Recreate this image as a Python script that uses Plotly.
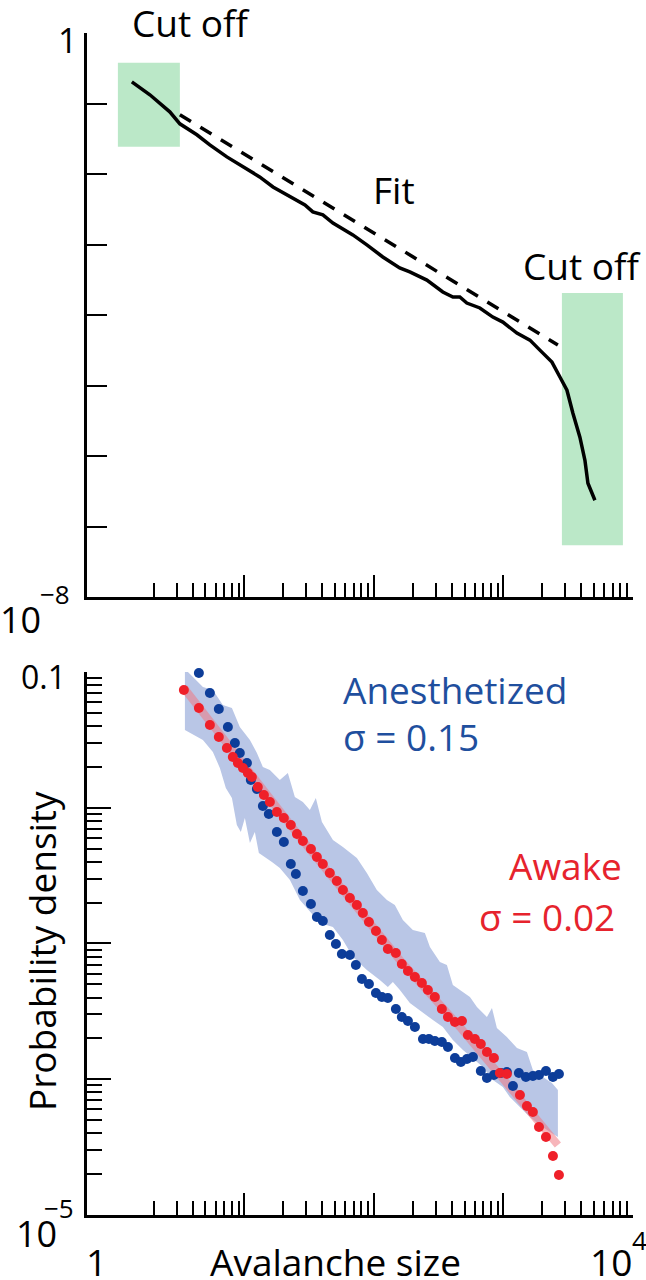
import plotly.graph_objects as go

# ---------------- data (top panel: schematic distribution) ----------------
top_size = [1.35, 1.86, 2.65, 3.17, 4.29, 5.40, 7.31, 9.72, 13.1, 16.6, 23.6, 29.3, 33.7,
            40.3, 48.2, 68.7, 88.1, 117, 158, 189, 256, 340, 407, 460, 521, 657, 828, 989,
            1269, 1600, 1910, 2366, 2727, 3090, 3436, 3890, 4254, 4487, 5080]
top_density = [0.203, 0.133, 0.0762, 0.0515, 0.0360, 0.0259, 0.0175, 0.0126, 0.00910,
               0.00656, 0.00458, 0.00365, 0.00290, 0.00263, 0.00202, 0.00137, 0.000986,
               0.000666, 0.000465, 0.000408, 0.000313, 0.000212, 0.000180, 0.000180,
               0.000148, 0.000126, 9.35e-5, 7.94e-5, 5.54e-5, 4.41e-5, 3.18e-5, 2.15e-5,
               1.32e-5, 8.59e-6, 4.05e-6, 1.85e-6, 8.71e-7, 4.11e-7, 2.36e-7]
fit_size = [3.17, 2630]
fit_density = [0.0692, 3.75e-5]
cut_low_size = [1.053, 3.17]
cut_low_density = [0.0243, 0.379]
cut_high_size = [2825, 8356]
cut_high_density = [5.42e-8, 2.05e-4]

# ---------------- data (bottom panel, log10 values) ----------------
anes_log_size = [0.540, 0.648, 0.733, 0.802, 0.872, 0.926, 0.964, 1.019, 1.049, 1.096, 1.142,
                 1.188, 1.250, 1.304, 1.358, 1.397, 1.451, 1.513, 1.559, 1.605, 1.659, 1.706,
                 1.752, 1.814, 1.860, 1.907, 1.961, 2.015, 2.061, 2.107, 2.169, 2.215, 2.262,
                 2.316, 2.378, 2.424, 2.470, 2.524, 2.571, 2.625, 2.671, 2.718, 2.764, 2.825,
                 2.872, 2.926, 2.980, 3.026, 3.073, 3.119, 3.173, 3.227, 3.274, 3.328, 3.382,
                 3.428]
anes_log_density = [-0.838, -1.007, -1.155, -1.273, -1.405, -1.523, -1.597, -1.670, -1.796,
                    -1.862, -1.987, -2.046, -2.179, -2.252, -2.414, -2.488, -2.613, -2.709,
                    -2.805, -2.834, -2.937, -3.004, -3.077, -3.085, -3.158, -3.262, -3.298,
                    -3.365, -3.394, -3.401, -3.483, -3.541, -3.571, -3.615, -3.703, -3.703,
                    -3.718, -3.726, -3.762, -3.843, -3.873, -3.851, -3.836, -3.939, -3.991,
                    -3.969, -3.954, -3.947, -4.050, -3.954, -3.983, -3.976, -3.969, -3.939,
                    -3.983, -3.961]
awake_log_size = [0.532, 0.648, 0.733, 0.802, 0.864, 0.910, 0.949, 0.988, 1.026, 1.057, 1.103,
                  1.150, 1.196, 1.250, 1.304, 1.358, 1.405, 1.451, 1.513, 1.559, 1.605, 1.659,
                  1.713, 1.760, 1.814, 1.868, 1.914, 1.961, 2.015, 2.061, 2.107, 2.169, 2.215,
                  2.262, 2.316, 2.370, 2.416, 2.470, 2.524, 2.571, 2.625, 2.679, 2.725, 2.779,
                  2.825, 2.872, 2.926, 2.972, 3.026, 3.127, 3.181, 3.227, 3.274, 3.328, 3.382,
                  3.428]
awake_log_density = [-1.133, -1.265, -1.390, -1.479, -1.560, -1.626, -1.670, -1.707, -1.744,
                     -1.773, -1.847, -1.906, -1.958, -2.031, -2.076, -2.127, -2.193, -2.245,
                     -2.304, -2.363, -2.414, -2.481, -2.540, -2.606, -2.665, -2.716, -2.775,
                     -2.842, -2.908, -2.974, -3.041, -3.070, -3.151, -3.203, -3.247, -3.291,
                     -3.343, -3.394, -3.483, -3.541, -3.578, -3.571, -3.674, -3.703, -3.740,
                     -3.799, -3.843, -3.954, -3.961, -4.116, -4.197, -4.241, -4.352, -4.425,
                     -4.565, -4.705]
awake_fit_log_size = [0.532, 1.428, 2.200, 2.663, 2.972, 3.204, 3.420]
awake_fit_log_density = [-1.118, -2.215, -3.122, -3.615, -3.969, -4.227, -4.484]
band_upper_log_size = [0.540, 0.679, 0.756, 0.833, 0.903, 0.964, 1.042, 1.096, 1.142, 1.196,
                       1.273, 1.335, 1.389, 1.451, 1.505, 1.551, 1.598, 1.683, 1.760, 1.868,
                       1.945, 2.022, 2.100, 2.161, 2.223, 2.300, 2.393, 2.432, 2.509, 2.563,
                       2.609, 2.687, 2.741, 2.795, 2.872, 2.911, 2.949, 3.026, 3.104, 3.181,
                       3.227, 3.304, 3.374, 3.420]
band_upper_log_density = [-0.978, -1.110, -1.133, -1.243, -1.265, -1.405, -1.501, -1.597,
                          -1.700, -1.722, -1.796, -1.744, -1.921, -1.958, -2.017, -1.928,
                          -2.105, -2.238, -2.289, -2.370, -2.481, -2.606, -2.680, -2.716,
                          -2.827, -2.901, -2.923, -3.026, -3.136, -3.158, -3.306, -3.357,
                          -3.394, -3.468, -3.541, -3.475, -3.622, -3.689, -3.770, -3.799,
                          -3.932, -3.983, -4.028, -4.079]
band_lower_log_size = [0.540, 0.679, 0.756, 0.810, 0.856, 0.903, 0.941, 0.972, 1.003, 1.042,
                       1.080, 1.111, 1.158, 1.212, 1.273, 1.351, 1.428, 1.505, 1.583, 1.683,
                       1.760, 1.837, 1.945, 2.045, 2.107, 2.146, 2.200, 2.277, 2.378, 2.455,
                       2.532, 2.609, 2.687, 2.764, 2.841, 2.918, 2.995, 3.049, 3.127, 3.204,
                       3.281, 3.359, 3.420]
band_lower_log_density = [-1.427, -1.501, -1.589, -1.707, -1.855, -1.928, -2.127, -2.179,
                          -2.076, -2.260, -2.179, -2.333, -2.363, -2.400, -2.444, -2.532,
                          -2.680, -2.768, -2.849, -2.878, -2.974, -3.099, -3.195, -3.269,
                          -3.320, -3.284, -3.343, -3.438, -3.512, -3.564, -3.615, -3.711,
                          -3.785, -3.851, -3.910, -4.006, -4.057, -4.131, -4.204, -4.278,
                          -4.337, -4.389, -4.425]

x_major = [10, 100, 1000, 10000]
x_minor = [k * 10 ** e for e in range(0, 4) for k in range(2, 10)]
top_y_major = [10 ** (-e) for e in range(0, 8)]
bot_y_major = [0.1, 0.01, 0.001, 0.0001]
bot_y_minor = [k * 10 ** e for e in range(-5, -1) for k in range(2, 10)]


def pw(vals):
    return [10 ** v for v in vals]


FONT = "Open Sans"
BLUE_TXT = "#1f4f9e"
RED_TXT = "#e6232d"

fig = go.Figure()

# top panel
for xs, ys in [(cut_low_size, cut_low_density), (cut_high_size, cut_high_density)]:
    fig.add_trace(go.Scatter(
        x=[xs[0], xs[1], xs[1], xs[0], xs[0]],
        y=[ys[0], ys[0], ys[1], ys[1], ys[0]],
        mode="lines", fill="toself", fillcolor="#bbe8c8",
        line=dict(width=0, color="#bbe8c8"), xaxis="x", yaxis="y",
        hoverinfo="skip", showlegend=False))
fig.add_trace(go.Scatter(x=fit_size, y=fit_density, mode="lines",
                         line=dict(color="black", width=3.5, dash="13px,11px"),
                         xaxis="x", yaxis="y", showlegend=False))
fig.add_trace(go.Scatter(x=top_size, y=top_density, mode="lines",
                         line=dict(color="black", width=3.5),
                         xaxis="x", yaxis="y", showlegend=False))

# bottom panel
band_x = pw(band_upper_log_size) + pw(band_lower_log_size)[::-1]
band_y = pw(band_upper_log_density) + pw(band_lower_log_density)[::-1]
fig.add_trace(go.Scatter(x=band_x, y=band_y, mode="lines", fill="toself",
                         fillcolor="#b9c6e6", line=dict(width=0, color="#b9c6e6"),
                         xaxis="x2", yaxis="y2", hoverinfo="skip", showlegend=False))
fig.add_trace(go.Scatter(x=pw(awake_fit_log_size), y=pw(awake_fit_log_density), mode="lines",
                         line=dict(color="rgba(240,120,130,0.55)", width=8),
                         xaxis="x2", yaxis="y2", showlegend=False))
fig.add_trace(go.Scatter(x=pw(anes_log_size), y=pw(anes_log_density), mode="markers",
                         marker=dict(color="#0d3d99", size=10), cliponaxis=False,
                         name="Anesthetized", xaxis="x2", yaxis="y2", showlegend=False))
fig.add_trace(go.Scatter(x=pw(awake_log_size), y=pw(awake_log_density), mode="markers",
                         marker=dict(color="#ef2029", size=10), cliponaxis=False,
                         name="Awake", xaxis="x2", yaxis="y2", showlegend=False))

axis_common = dict(type="log", showline=True, linecolor="black", linewidth=2.5,
                   showgrid=False, zeroline=False, showticklabels=False,
                   ticks="inside", tickcolor="black", tickwidth=2)

xaxis_cfg = dict(axis_common, range=[-0.216, 4], tickmode="array", tickvals=x_major,
                 ticklen=22,
                 minor=dict(tickmode="array", tickvals=x_minor, ticks="inside", ticklen=14,
                            tickwidth=2, tickcolor="black", showgrid=False))

fig.update_layout(
    width=646, height=1280, autosize=False,
    margin=dict(l=87, r=13, t=33, b=65),
    paper_bgcolor="white", plot_bgcolor="white",
    showlegend=False,
    xaxis=dict(xaxis_cfg, domain=[0, 1], anchor="y"),
    yaxis=dict(axis_common, range=[-8, 0], domain=[0.5228, 1], anchor="x",
               tickmode="array", tickvals=top_y_major, ticklen=20),
    xaxis2=dict(xaxis_cfg, domain=[0, 1], anchor="y2"),
    yaxis2=dict(axis_common, range=[-5, -1], domain=[0, 0.4594], anchor="x2",
                tickmode="array", tickvals=bot_y_major, ticklen=24,
                minor=dict(tickmode="array", tickvals=bot_y_minor, ticks="inside",
                           ticklen=15, tickwidth=2, tickcolor="black", showgrid=False)),
)


def txt(text, x, y, size, color="black", angle=0, xanchor="center"):
    fig.add_annotation(text=text, x=x, y=y, xref="paper", yref="paper",
                       showarrow=False, xanchor=xanchor, yanchor="middle",
                       textangle=angle, font=dict(family=FONT, size=size, color=color))


# top panel texts
txt("Cut off", 0.1905, 1.009, 37)
txt("Fit", 0.5623, 0.8672, 37)
txt("Cut off", 0.906, 0.8037, 37)
txt("1", -0.0366, 0.9945, 34)
txt("10", -0.1218, 0.5034, 36)
txt("\u22128", -0.0577, 0.5258, 26)

# bottom panel texts
txt("0.1", -0.0797, 0.456, 32)
txt("10", -0.0934, -0.0157, 36)
txt("\u22125", -0.0504, 0.0063, 26)
txt("1", 0.0165, -0.039, 37)
txt("Avalanche size", 0.456, -0.039, 37)
txt("10", 0.9588, -0.039, 37)
txt("4", 1.0119, -0.0215, 26)
txt("Probability density", -0.0833, 0.2229, 37, angle=-90)
txt("Anesthetized", 0.6749, 0.4442, 37, BLUE_TXT)
txt("\u03c3 = 0.15", 0.5925, 0.4048, 37, BLUE_TXT)
txt("Awake", 0.8755, 0.2961, 37, RED_TXT)
txt("\u03c3 = 0.02", 0.8425, 0.2525, 37, RED_TXT)

fig.write_html("out.html", config={"displayModeBar": False},
               post_script="document.body.style.margin='0';document.body.style.overflow='hidden';")
